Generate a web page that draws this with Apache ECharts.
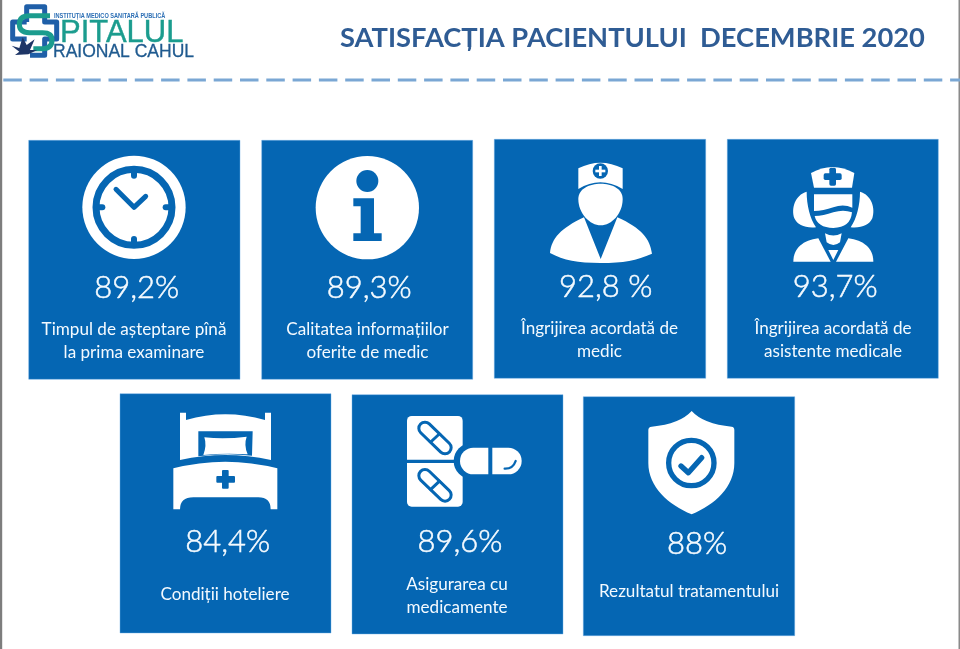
<!DOCTYPE html>
<html>
<head>
<meta charset="utf-8">
<style>html,body{margin:0;padding:0;background:#fff}#c{width:960px;height:649px}</style>
<script src="https://cdn.jsdelivr.net/npm/echarts@6/dist/echarts.min.js"></script>
</head>
<body>
<div id="c"></div>
<script>
// ---- data ----
var titleText = 'SATISFACȚIA PACIENTULUI  DECEMBRIE 2020';
var categories = [
  'Timpul de așteptare pînă\nla prima examinare',
  'Calitatea informațiilor\noferite de medic',
  'Îngrijirea acordată de\nmedic',
  'Îngrijirea acordată de\nasistente medicale',
  'Condiții hoteliere',
  'Asigurarea cu\nmedicamente',
  'Rezultatul tratamentului'
];
var values = [89.2, 89.3, 92.8, 93.7, 84.4, 89.6, 88];
var valueLabels = ['89,2%', '89,3%', '92,8 %', '93,7%', '84,4%', '89,6%', '88%'];
var logoLines = ['INSTITUȚIA MEDICO SANITARĂ PUBLICĂ', 'PITALUL', 'RAIONAL CAHUL'];

// ---- layout (panel x, y, w, h, value centre x/y, label centre x/y) ----
var panelLayout = [
  [28.7, 140.3, 211.3, 239, 136.7, 287.5, 134, 341],
  [261.7, 140.3, 211, 239, 369.3, 287.5, 367.5, 341],
  [494.3, 139.3, 211.4, 239, 605.7, 286.7, 599.5, 339.7],
  [727.3, 139.3, 211, 239, 835.3, 286.7, 833, 339.7],
  [120, 393.7, 211, 239.3, 227.7, 541.7, 225, 594],
  [352, 394.7, 211, 239.3, 460, 541.7, 457, 595.5],
  [583.3, 396.7, 211.4, 239, 697, 544, 689, 591]
];
var BLUE = '#0566b3', WHITE = '#ffffff', TXT = '#f4faff';

function path(d, fill, extra) {
  var s = { fill: fill };
  if (extra) for (var k in extra) s[k] = extra[k];
  return { type: 'path', shape: { pathData: d }, style: s };
}
function stroke(d, color, w, cap) {
  return path(d, 'none', { stroke: color, lineWidth: w, lineCap: cap || 'round', lineJoin: 'round' });
}
function circle(cx, cy, r, fill, extra) {
  var s = { fill: fill };
  if (extra) for (var k in extra) s[k] = extra[k];
  return { type: 'circle', shape: { cx: cx, cy: cy, r: r }, style: s };
}
function rect(x, y, w, h, fill, r) {
  return { type: 'rect', shape: { x: x, y: y, width: w, height: h, r: r || 0 }, style: { fill: fill } };
}
function frame(ox, oy, children) { // drawn in 3x units
  return { type: 'group', x: ox, y: oy, scaleX: 1 / 3, scaleY: 1 / 3, children: children };
}

var icons = [
  function () { // clock
    return frame(20, 135, [
      circle(342, 217, 155, WHITE),
      circle(342, 217, 114, 'none', { stroke: BLUE, lineWidth: 21 }),
      stroke('M342 107L342 122', BLUE, 18, 'round'),
      stroke('M342 327L342 312', BLUE, 18, 'round'),
      stroke('M232 217L247 217', BLUE, 18, 'round'),
      stroke('M452 217L437 217', BLUE, 18, 'round'),
      stroke('M288 163L342 217L377 184', BLUE, 15, 'round')
    ]);
  },
  function () { // info
    return frame(20, 135, [
      circle(1042, 218, 155, WHITE),
      circle(1042, 138, 33, BLUE),
      path('M1000 190L1062 190L1062 295L1085 295L1085 318L1000 318L1000 295L1022 295L1022 214L1000 214Z', BLUE)
    ]);
  },
  function () { // doctor
    return frame(490, 135, [
      path('M265 100Q331 66 398 100L398 162Q331 122 265 162Z', WHITE),
      circle(331, 108, 23, BLUE),
      rect(327, 93, 8, 30, WHITE),
      rect(316, 104, 30, 8, WHITE),
      path('M180 354C185 310 212 280 282 247L332 372L382 247C455 280 480 312 486 356C440 376 400 384 332 384C262 384 222 376 180 354Z', WHITE),
      path('M265 192C265 160 300 146 332 146C365 146 398 160 398 192C398 236 365 271 332 271C300 271 265 236 265 192Z', WHITE)
    ]);
  },
  function () { // nurse
    return frame(490, 135, [
      path('M963 114Q1028 78 1093 114L1086 158L972 158Z', WHITE),
      rect(1018, 98, 20, 54, BLUE, 5),
      rect(1001, 115, 54, 20, BLUE, 5),
      path('M972 178L1087 178L1087 218Q1060 205 1030 217Q1000 228 972 228Z', WHITE),
      path('M974 243Q1000 243 1030 232Q1060 222 1086 232Q1082 278 1030 279Q982 278 974 243Z', WHITE),
      path('M950 170C915 180 903 220 913 250C922 270 945 280 978 277C960 250 950 210 950 170Z', WHITE),
      path('M1110 170C1145 180 1157 220 1147 250C1138 270 1115 280 1082 277C1100 250 1110 210 1110 170Z', WHITE),
      path('M1005 295Q1030 308 1055 295L1050 322Q1030 338 1010 322Z', WHITE),
      path('M910 380C910 340 940 315 985 310L1022 380Z', WHITE),
      path('M1150 380C1150 340 1120 315 1075 310L1038 380Z', WHITE),
      path('M1015 345L1045 345L1030 375Z', WHITE)
    ]);
  },
  function () { // bed
    return frame(115, 390, [
      path('M195 68L213 68L213 90Q331 55 450 90L450 68L468 68L468 210Q331 180 195 210Z', WHITE),
      path('M250 124L413 124L411 197Q331 187 250 199Z', BLUE),
      path('M268 142Q331 148 395 140Q386 165 398 193Q331 188 265 195Q276 165 268 142Z', WHITE),
      path('M175 235Q331 195 487 235L487 358L467 358Q467 322 430 322L235 322Q195 322 195 358L175 358Z', WHITE),
      rect(304, 258, 56, 20, BLUE, 3),
      rect(321, 240, 20, 56, BLUE, 3)
    ]);
  },
  function () { // pills
    function pill(dy) {
      return [
        stroke('M90 ' + (70 + dy) + 'L150 ' + (128 + dy), BLUE, 46),
        stroke('M90 ' + (70 + dy) + 'L150 ' + (128 + dy), WHITE, 28),
        stroke('M104 ' + (114 + dy) + 'L136 ' + (84 + dy), BLUE, 9, 'butt')
      ];
    }
    return frame(395, 405, [
      rect(36, 33, 167, 272, WHITE, 14),
      rect(36, 164, 150, 10, BLUE)
    ].concat(pill(0), pill(142), [
      rect(176, 114, 110, 108, BLUE, 54),
      path('M235 128L280 128L280 208L235 208A40 40 0 0 1 235 128Z', WHITE),
      path('M292 128L340 128A40 40 0 0 1 340 208L292 208Z', WHITE),
      stroke('M329 191Q354 192 362 168', BLUE, 7)
    ]));
  },
  function () { // shield
    return frame(575, 390, [
      path('M350 63Q385 102 470 110Q478 111 478 120L478 220C478 290 420 345 350 373C280 345 220 290 220 220L220 120Q220 111 230 110Q315 102 350 63Z', WHITE),
      circle(349, 219, 68, 'none', { stroke: BLUE, lineWidth: 16 }),
      stroke('M318 228L340 248L380 203', BLUE, 16)
    ]);
  }
];

function renderPanel(params) {
  var i = params.dataIndex, p = panelLayout[i];
  return {
    type: 'group',
    children: [
      { type: 'rect', shape: { x: p[0], y: p[1], width: p[2], height: p[3] },
        style: { fill: BLUE, stroke: 'rgba(110,175,230,0.55)', lineWidth: 0.8 } },
      icons[i](),
      { type: 'text', style: { text: valueLabels[i], x: p[4], y: p[5], fill: TXT, stroke: TXT, lineWidth: 0.5, align: 'center', verticalAlign: 'middle',
        font: '300 31px Lato' } },
      { type: 'text', style: { text: categories[i], x: p[6], y: p[7], fill: TXT, align: 'center', verticalAlign: 'middle',
        font: '400 17.1px Lato', lineHeight: 23 } }
    ]
  };
}

function renderLogo() {
  var teal = '#1b9c8e', blue = '#1f5fa8', navy = '#1e3566';
  return {
    type: 'group',
    children: [
      frame(0, 0, [
        stroke('M80 66L80 20L134 20L134 66L170 66L170 117L134 117L134 166L90 166', blue, 15, 'butt'),
        stroke('M80 66L38 66L38 117L80 117', blue, 15, 'butt'),
        stroke('M150 47L88 47Q58 47 58 73Q58 98 88 98L128 98Q156 98 156 120Q156 146 128 146L100 146', teal, 15, 'butt'),
        path('M35 137L58 144L68 112L80 135L104 118L90 150L112 150L85 163L45 165L58 155Z', navy)
      ]),
      { type: 'text', x: 54, y: 16, scaleX: 0.8, style: { text: logoLines[0], fill: '#2c6fb5', align: 'left', verticalAlign: 'middle',
        font: 'bold 7px "Liberation Sans"' } },
      { type: 'text', style: { text: logoLines[1], x: 60, y: 33, fill: teal, stroke: teal, lineWidth: 0.4, align: 'left', verticalAlign: 'middle',
        font: '31px "Liberation Sans"' } },
      { type: 'text', style: { text: logoLines[2], x: 53, y: 52.5, fill: '#1f5a8f', stroke: '#1f5a8f', lineWidth: 0.3, align: 'left', verticalAlign: 'middle',
        font: '17.5px "Liberation Sans"' } }
    ]
  };
}

var chart = echarts.init(document.getElementById('c'), null, { renderer: 'canvas' });
chart.setOption({
  animation: false,
  backgroundColor: '#ffffff',
  title: {
    text: titleText, left: 335, top: 20,
    textStyle: { fontFamily: 'Lato', fontWeight: 'bold', fontSize: 27.3, color: '#2f5c94' }
  },
  graphic: [
    { type: 'rect', shape: { x: 0, y: 0, width: 2.2, height: 649 }, style: { fill: '#7d7d7d' } },
    { type: 'rect', shape: { x: 958.5, y: 0, width: 1.5, height: 649 }, style: { fill: '#8a8a8a' } },
    { type: 'line', shape: { x1: 3.3, y1: 80, x2: 960, y2: 80 },
      style: { stroke: '#7aa7d4', lineWidth: 3, lineDash: [18.5, 7.8] } }
  ],
  series: [
    { type: 'custom', coordinateSystem: 'none', silent: true, data: values, renderItem: renderPanel },
    { type: 'custom', coordinateSystem: 'none', silent: true, data: [0], renderItem: renderLogo }
  ]
});
</script>
</body>
</html>
